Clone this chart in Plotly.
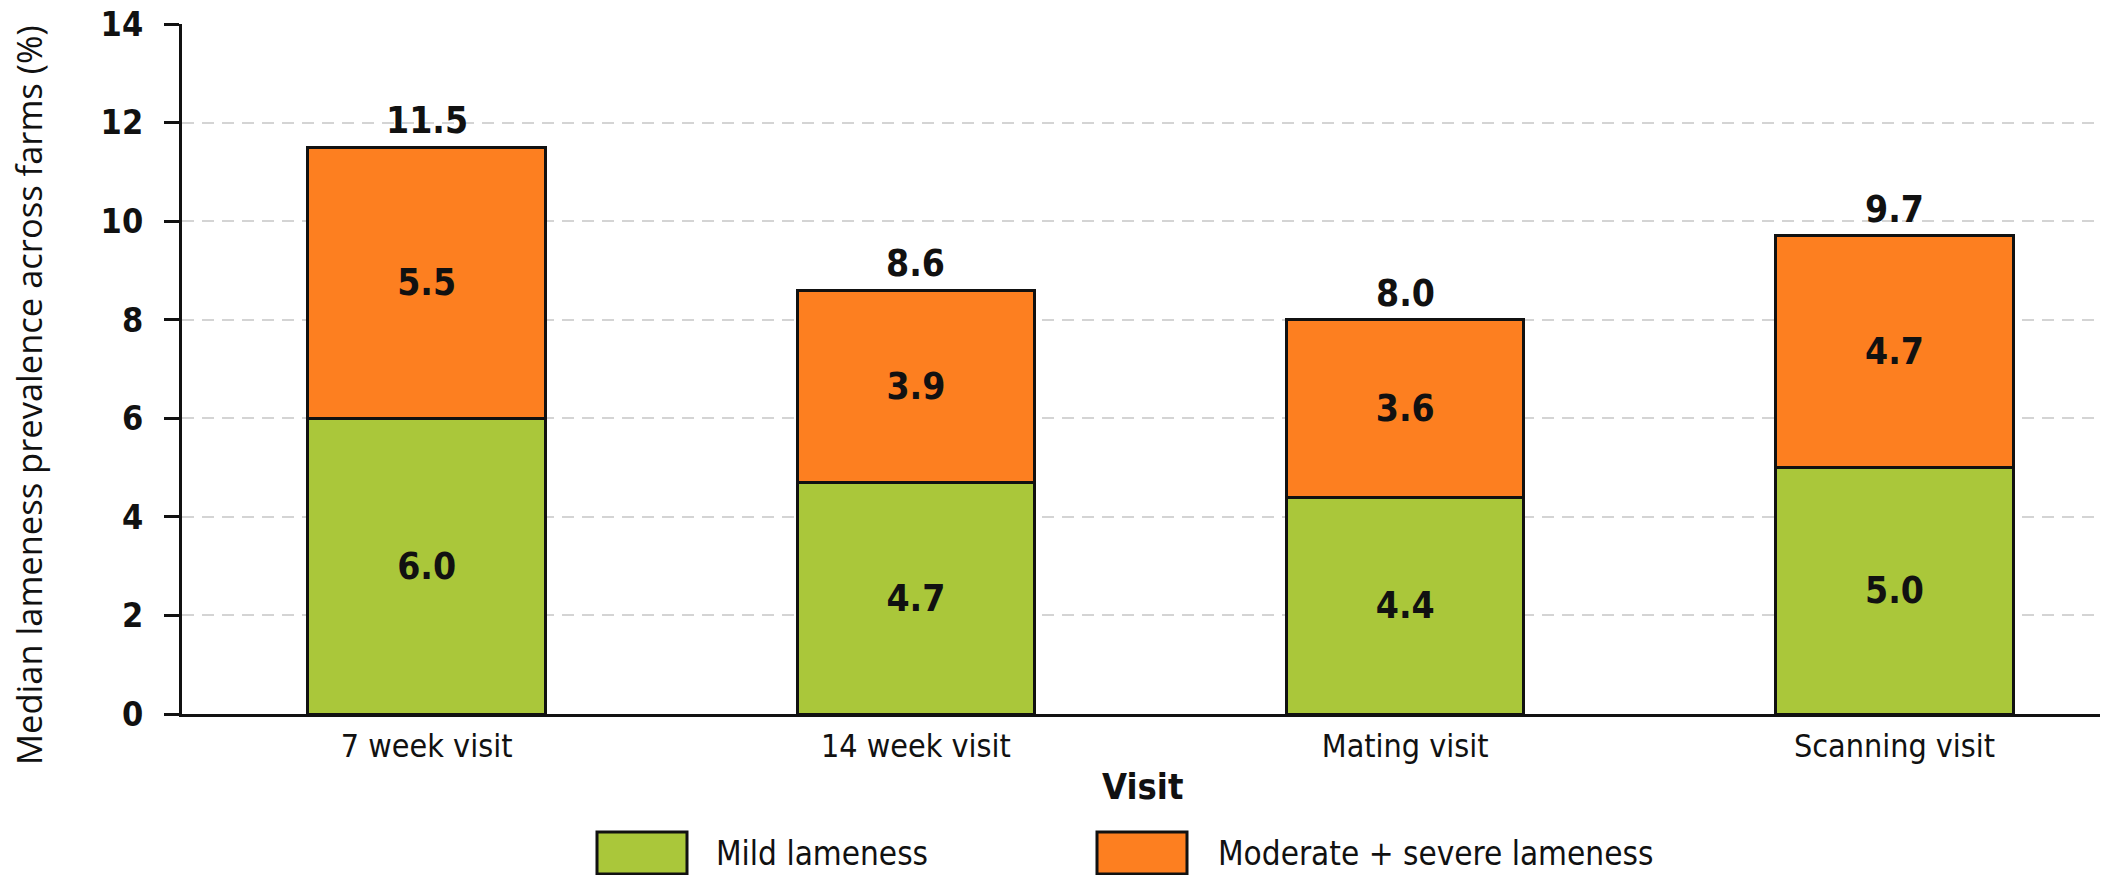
import plotly.graph_objects as go

# Median lameness prevalence (%) per visit, split by severity
visits = ["7 week visit", "14 week visit", "Mating visit", "Scanning visit"]
mild = [6.0, 4.7, 4.4, 5.0]
moderate_severe = [5.5, 3.9, 3.6, 4.7]
series_names = ["Mild lameness", "Moderate + severe lameness"]
y_ticks = [0, 2, 4, 6, 8, 10, 12, 14]

GREEN = "#AAC73A"
ORANGE = "#FD7F20"
INK = "#111111"
NARROW = "DejaVu Sans Condensed, Liberation Sans Narrow, sans-serif"
HUMANIST = "Open Sans, Noto Sans, DejaVu Sans, sans-serif"

W, H = 2104, 875
M_L, M_R, M_T, M_B = 182, 4, 24, 161
PW, PH = W - M_L - M_R, H - M_T - M_B


def px_x(px):
    """Pixel column -> paper x."""
    return (px - M_L) / PW


def px_y(py):
    """Pixel row -> paper y."""
    return (H - M_B - py) / PH


fig = go.Figure()
for vals, name, color in [(mild, series_names[0], GREEN),
                          (moderate_severe, series_names[1], ORANGE)]:
    fig.add_trace(go.Bar(
        x=visits, y=vals, name=name,
        marker=dict(color=color, line=dict(color=INK, width=3)),
        width=0.485,
        texttemplate="%{y:.1f}", textposition="inside",
        insidetextanchor="middle", textangle=0,
        textfont=dict(family=NARROW, size=37, color=INK, weight="bold"),
        showlegend=False, cliponaxis=False,
    ))

annotations = []
# totals above each stack
for v, a, b in zip(visits, mild, moderate_severe):
    total = a + b
    annotations.append(dict(
        x=v, y=total, xref="x", yref="y", text=f"{total:.1f}",
        showarrow=False, yanchor="bottom", yshift=3,
        font=dict(family=NARROW, size=37, color=INK, weight="bold"),
    ))

# axis titles
annotations.append(dict(
    x=px_x(1142), y=px_y(786), xref="paper", yref="paper", text="Visit",
    showarrow=False, xanchor="center", yanchor="middle",
    font=dict(family=NARROW, size=36, color=INK, weight="bold"),
))
annotations.append(dict(
    x=px_x(28), y=px_y(395), xref="paper", yref="paper",
    text="Median lameness prevalence across farms (%)", textangle=-90,
    showarrow=False, xanchor="center", yanchor="middle",
    font=dict(family=HUMANIST, size=34.5, color=INK),
))

# legend drawn below the axis title
shapes = []
legend_items = [(series_names[0], GREEN, 597, 714),
                (series_names[1], ORANGE, 1097, 1216)]
for name, color, box_left, text_left in legend_items:
    shapes.append(dict(
        type="rect", xref="paper", yref="paper",
        x0=px_x(box_left), x1=px_x(box_left + 90),
        y0=px_y(874), y1=px_y(832),
        fillcolor=color, line=dict(color=INK, width=3), layer="above",
    ))
    annotations.append(dict(
        x=px_x(text_left), y=px_y(853), xref="paper", yref="paper",
        text=name, showarrow=False, xanchor="left", yanchor="middle",
        font=dict(family=NARROW, size=33, color=INK),
    ))

fig.update_layout(
    width=W, height=H,
    margin=dict(l=M_L, r=M_R, t=M_T, b=M_B, autoexpand=False),
    barmode="stack",
    plot_bgcolor="white", paper_bgcolor="white",
    annotations=annotations, shapes=shapes,
    showlegend=False,
)
fig.update_xaxes(
    range=[-0.5, 3.42],
    showline=True, linecolor=INK, linewidth=3,
    ticks="", showgrid=False, zeroline=False,
    tickfont=dict(family=NARROW, size=32, color=INK),
    ticklabelstandoff=2,
)
fig.update_yaxes(
    range=[0, 14], tickvals=y_ticks,
    showline=True, linecolor=INK, linewidth=3,
    ticks="outside", ticklen=15, tickwidth=2.5, tickcolor=INK,
    showgrid=True, gridcolor="#d4d4d4", gridwidth=1.5, griddash="12px,8px",
    zeroline=False,
    tickfont=dict(family=NARROW, size=34, color=INK, weight="bold"),
    ticklabelstandoff=14,
)

fig.write_html("out.html")
